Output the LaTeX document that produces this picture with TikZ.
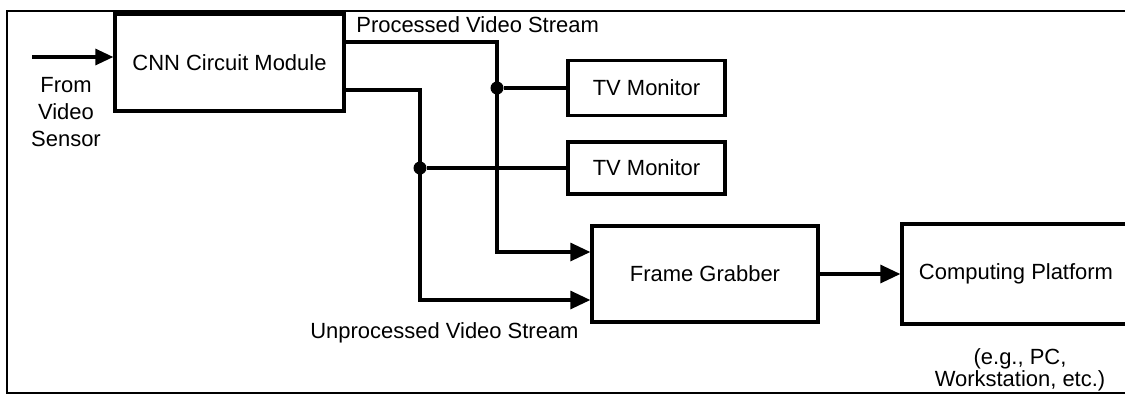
\documentclass[tikz,border=0pt]{standalone}
\usepackage{fontspec}
\setmainfont{Liberation Sans}
\usepackage{tikz}
\usetikzlibrary{arrows.meta}

\begin{document}
\begin{tikzpicture}[
    font=\fontsize{12.5}{15}\selectfont,
    block/.style={draw=black,line width=1.9pt,shape=rectangle,inner sep=0pt},
    wire/.style={black,line width=1.8pt},
    feed/.style={wire,-{Triangle[length=4mm,width=3.6mm]}},
    joint/.style={shape=circle,fill=black,inner sep=0pt,minimum size=2.6mm}
  ]
    \useasboundingbox (0,0) rectangle (22.5,-7.96);
    % outer frame, open on the right
    \draw[black,line width=1.3pt] (22.5,-0.22) -- (0.14,-0.22) -- (0.14,-7.86) -- (22.5,-7.86);

    \node[block,minimum width=4.58cm,minimum height=1.94cm] (cnn) at (4.59,-1.25) {CNN Circuit Module};
    \node[block,minimum width=3.14cm,minimum height=1.1cm] (tvtop) at (12.93,-1.76) {TV Monitor};
    \node[block,minimum width=3.14cm,minimum height=1.04cm] (tvbot) at (12.93,-3.36) {TV Monitor};
    \node[block,minimum width=4.52cm,minimum height=1.92cm] (grabber) at (14.10,-5.48) {Frame Grabber};
    \node[block,minimum width=4.56cm,minimum height=2.0cm] (platform) at (20.32,-5.48) {Computing Platform};

    \node[joint] (jproc) at (9.94,-1.76) {};
    \node[joint] (junproc) at (8.40,-3.36) {};
    \coordinate (sensor) at (0.64,-1.14);

    \node[align=center,inner sep=0pt,font=\fontsize{12.5}{15.3}\selectfont] (fromlbl) at (1.32,-2.24) {From\\Video\\Sensor};
    \node[anchor=west,inner sep=0pt] (proclbl) at (7.12,-0.50) {Processed Video Stream};
    \node[anchor=west,inner sep=0pt] (unproclbl) at (6.20,-6.66) {Unprocessed Video Stream};
    \node[align=center,inner sep=0pt,font=\fontsize{12.5}{11.5}\selectfont] (eglbl) at (20.40,-7.40) {(e.g., PC,\\Workstation, etc.)};

    \draw[wire,-{Triangle[length=3.6mm,width=3.2mm]}] (sensor) -- (cnn.west |- sensor);
    \draw[feed] ([yshift=4.1mm]cnn.east) -| (jproc.center) |- ([yshift=4.4mm]grabber.west);
    \draw[feed] ([yshift=-5.5mm]cnn.east) -| (junproc.center) |- ([yshift=-5.2mm]grabber.west);
    \draw[wire] (jproc) -- (tvtop);
    \draw[wire] (junproc) -- (tvbot);
    \draw[feed] (grabber) -- (platform);
  \end{tikzpicture}
\end{document}
